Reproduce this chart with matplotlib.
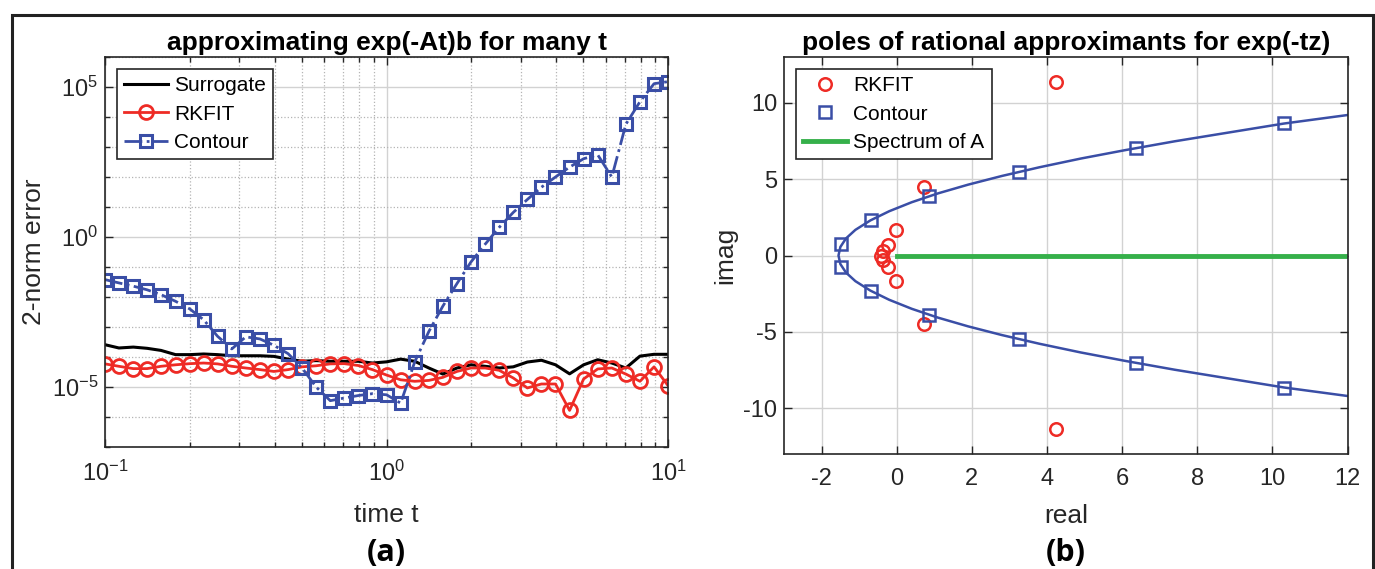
import numpy as np
import matplotlib
matplotlib.use('Agg')
import matplotlib.pyplot as plt
from matplotlib.patches import Rectangle
from matplotlib.ticker import FixedLocator, FixedFormatter, NullFormatter

plt.rcParams['font.family'] = ['Liberation Sans', 'DejaVu Sans']
plt.rcParams['mathtext.fontset'] = 'custom'
plt.rcParams['mathtext.rm'] = 'Liberation Sans'
plt.rcParams['axes.unicode_minus'] = False

RED = '#ee2b25'
BLUE = '#3a4ea6'
GREEN = '#35b04a'
AXC = '#262626'

# panel (a): error vs time, 41 sample times
times = [0.100, 0.112, 0.126, 0.141, 0.158, 0.178, 0.200, 0.224, 0.251, 0.282,
         0.316, 0.355, 0.398, 0.447, 0.501, 0.562, 0.631, 0.708, 0.794, 0.891,
         1.000, 1.122, 1.259, 1.413, 1.585, 1.778, 1.995, 2.239, 2.512, 2.818,
         3.162, 3.548, 3.981, 4.467, 5.012, 5.623, 6.310, 7.079, 7.943, 8.913,
         10.000]
err_surrogate = [2.57e-4, 2.0e-4, 2.14e-4, 1.95e-4, 1.66e-4, 1.2e-4, 1.2e-4,
                 1.26e-4, 1.2e-4, 1.1e-4, 1.1e-4, 1.1e-4, 1.05e-4, 8.5e-5,
                 7.2e-5, 7.6e-5, 7.2e-5, 7.2e-5, 7.2e-5, 6.3e-5, 6.9e-5,
                 8.5e-5, 7.2e-5, 4.3e-5, 2.7e-5, 4.3e-5, 5.5e-5, 4.9e-5,
                 4.3e-5, 4.7e-5, 6.8e-5, 7.8e-5, 5.5e-5, 2.75e-5, 5.5e-5,
                 8.1e-5, 6.3e-5, 4.3e-5, 1.07e-4, 1.23e-4, 1.23e-4]
err_rkfit = [5.9e-5, 4.9e-5, 4.1e-5, 4.1e-5, 4.9e-5, 5.5e-5, 6.0e-5, 6.3e-5,
             5.9e-5, 4.9e-5, 4.3e-5, 3.8e-5, 3.3e-5, 3.8e-5, 4.7e-5, 5.1e-5,
             5.9e-5, 6.0e-5, 5.2e-5, 3.8e-5, 2.5e-5, 1.74e-5, 1.55e-5,
             1.66e-5, 2.1e-5, 3.3e-5, 4.3e-5, 4.3e-5, 3.6e-5, 2.0e-5, 9.3e-6,
             1.26e-5, 1.26e-5, 1.66e-6, 1.86e-5, 4.0e-5, 4.3e-5, 2.7e-5,
             1.55e-5, 4.7e-5, 1.1e-5]
err_contour = [3.8e-2, 2.95e-2, 2.3e-2, 1.74e-2, 1.2e-2, 7.2e-3, 4.0e-3,
               1.74e-3, 4.9e-4, 1.86e-4, 4.7e-4, 4.0e-4, 2.45e-4, 1.29e-4,
               4.3e-5, 1.0e-5, 3.5e-6, 4.3e-6, 5.2e-6, 6.0e-6, 5.5e-6, 2.9e-6,
               6.9e-5, 7.1e-4, 5.0e-3, 2.8e-2, 0.148, 0.575, 2.1, 6.6, 17.8,
               45.7, 100.0, 214.0, 407.0, 550.0, 100.0, 5750.0, 3.24e4,
               1.29e5, 1.51e5]

# panel (b): poles in the complex plane
rkfit_re = [4.23, 4.23, 0.72, 0.72, -0.03, -0.03, -0.23, -0.23, -0.36, -0.36,
            -0.42]
rkfit_im = [11.35, -11.35, 4.48, -4.48, 1.65, -1.65, 0.72, -0.72, 0.28, -0.28,
            0.0]
contour_re = [-1.47, -1.47, -0.68, -0.68, 0.87, 0.87, 3.25, 3.25, 6.36, 6.36,
              10.3, 10.3]
contour_im = [0.76, -0.76, 2.35, -2.35, 3.91, -3.91, 5.48, -5.48, 7.06, -7.06,
              8.65, -8.65]
# upper half of the contour curve, the lower half is its mirror image
curve_re = [-1.55, -1.5, -1.35, -1.1, -0.7, -0.2, 0.4, 1.1, 1.9, 2.8, 3.8, 4.9,
            6.1, 7.4, 8.8, 10.3, 12.0]
curve_im = [0.0, 0.56, 1.12, 1.68, 2.30, 2.90, 3.49, 4.07, 4.64, 5.21, 5.78,
            6.35, 6.91, 7.48, 8.04, 8.64, 9.20]
spectrum_re = [0.0, 12.0]
spectrum_im = [0.0, 0.0]

fig = plt.figure(figsize=(13.75, 5.69), dpi=100)
ax1 = fig.add_axes([0.0764, 0.2144, 0.4095, 0.6854])
ax2 = fig.add_axes([0.5702, 0.2021, 0.4098, 0.6977])


def style_axes(ax):
    for sp in ax.spines.values():
        sp.set_color(AXC)
        sp.set_linewidth(1.2)
    ax.tick_params(which='both', direction='in', top=True, right=True,
                   colors=AXC, labelsize=17, width=1.0)
    ax.tick_params(which='major', length=6)
    ax.tick_params(which='minor', length=3.5)
    ax.tick_params(axis='x', which='both', pad=10)
    ax.tick_params(axis='y', which='both', pad=5)
    ax.set_axisbelow(True)


def style_legend(ax, anchor):
    leg = ax.legend(loc='upper left', bbox_to_anchor=anchor,
                    borderaxespad=0, fontsize=15, fancybox=False,
                    framealpha=1, edgecolor=AXC, labelspacing=0.45,
                    handlelength=2.1, handletextpad=0.3, borderpad=0.35)
    leg.get_frame().set_linewidth(1.2)
    return leg


# FIGURE (a)
ax1.plot(times, err_surrogate, color='black', lw=2.2, label='Surrogate')
ax1.plot(times, err_rkfit, color=RED, lw=2.0, marker='o', ms=10,
         mfc='none', mew=2.0, label='RKFIT')
ax1.plot(times, err_contour, color=BLUE, lw=2.0, ls='-.', marker='s', ms=8,
         mfc='none', mew=2.2, label='Contour')
ax1.set_xscale('log')
ax1.set_yscale('log')
ax1.set_xlim(0.1, 10)
ax1.set_ylim(1e-7, 1e6)
ax1.xaxis.set_major_locator(FixedLocator([0.1, 1, 10]))
ax1.xaxis.set_major_formatter(FixedFormatter(
    [r'$\mathregular{10^{-1}}$', r'$\mathregular{10^{0}}$',
     r'$\mathregular{10^{1}}$']))
xminor = [m*d for d in (0.1, 1.0) for m in range(2, 10)]
ax1.xaxis.set_minor_locator(FixedLocator(xminor))
ax1.xaxis.set_minor_formatter(NullFormatter())
ax1.yaxis.set_major_locator(FixedLocator([1e-5, 1e0, 1e5]))
ax1.yaxis.set_major_formatter(FixedFormatter(
    [r'$\mathregular{10^{-5}}$', r'$\mathregular{10^{0}}$',
     r'$\mathregular{10^{5}}$']))
yminor = [10.0**k for k in range(-7, 7) if k not in (-5, 0, 5)]
ax1.yaxis.set_minor_locator(FixedLocator(yminor))
ax1.yaxis.set_minor_formatter(NullFormatter())
ax1.grid(True, which='major', color='#d2d2d2', lw=1.0, ls='-')
ax1.grid(True, which='minor', color='#b4b4b4', lw=0.9, ls=':')
style_axes(ax1)
ax1.set_title('approximating exp(-At)b for many t', fontsize=19,
              fontweight='bold', pad=5)
ax1.set_xlabel('time t', fontsize=19, color=AXC, labelpad=12)
ax1.set_ylabel('2-norm error', fontsize=19, color=AXC, labelpad=4)
style_legend(ax1, (0.021, 0.969))

# FIGURE (b)
ax2.plot(rkfit_re, rkfit_im, ls='none', marker='o', ms=9, mfc='none',
         mec=RED, mew=1.8, label='RKFIT')
ax2.plot(contour_re, contour_im, ls='none', marker='s', ms=8, mfc='none',
         mec=BLUE, mew=1.8, label='Contour')
ax2.plot(spectrum_re, spectrum_im, color=GREEN, lw=3.5, label='Spectrum of A')
full_re = curve_re[::-1] + curve_re[1:]
full_im = [-v for v in curve_im[::-1]] + curve_im[1:]
ax2.plot(full_re, full_im, color=BLUE, lw=1.8, zorder=1.5)
ax2.set_xlim(-3, 12)
ax2.set_ylim(-13, 13)
ax2.set_xticks(range(-2, 13, 2))
ax2.set_yticks([-10, -5, 0, 5, 10])
ax2.grid(True, color='#d2d2d2', lw=1.0)
style_axes(ax2)
ax2.set_title('poles of rational approximants for exp(-tz)', fontsize=19,
              fontweight='bold', pad=5)
ax2.set_xlabel('real', fontsize=19, color=AXC, labelpad=10)
ax2.set_ylabel('imag', fontsize=19, color=AXC, labelpad=4)
style_legend(ax2, (0.021, 0.970))

fig.text(0.2811, 0.028, '(a)', fontsize=22, fontweight='bold',
         family=['Open Sans', 'DejaVu Sans'], ha='center', va='center')
fig.text(0.7751, 0.028, '(b)', fontsize=22, fontweight='bold',
         family=['Open Sans', 'DejaVu Sans'], ha='center', va='center')

fig.add_artist(Rectangle((12/1375, -0.1), 1361/1375, 1.1 - 15/569,
                         transform=fig.transFigure, fill=False,
                         edgecolor='#222222', lw=2.2))

fig.savefig('out.png', dpi=100)
